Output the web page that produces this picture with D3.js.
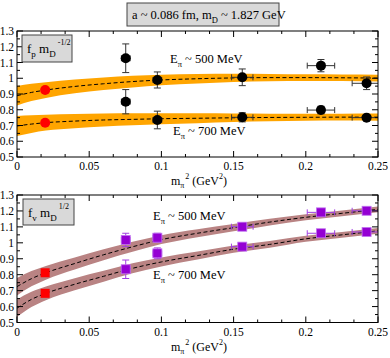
<!DOCTYPE html>
<html><head><meta charset="utf-8">
<script src="https://cdn.jsdelivr.net/npm/d3@7"></script>
<style>body{margin:0;background:#fff}svg text{font-family:"Liberation Serif","DejaVu Serif",serif;fill:#000}</style>
</head><body><svg id="c" width="390" height="358"></svg>
<script>
// ---- data ----
const xTicks = [0, 0.05, 0.1, 0.15, 0.2, 0.25];
const xTickLabels = ["0", "0.05", "0.1", "0.15", "0.2", "0.25"];
const yTicks = [0.5, 0.6, 0.7, 0.8, 0.9, 1.0, 1.1, 1.2, 1.3];
const yTickLabels = ["0.5", "0.6", "0.7", "0.8", "0.9", "1", "1.1", "1.2", "1.3"];

// top panel f_p
const fpX = [0.0753, 0.0972, 0.156, 0.2105, 0.2421];
const fpXerr = [0.003, 0.003, 0.0074, 0.0095, 0.01];
const fp500 = [1.127, 0.989, 1.006, 1.080, 0.968];
const fp500err = [0.091, 0.051, 0.053, 0.039, 0.04];
const fp700 = [0.851, 0.735, 0.752, 0.798, 0.750];
const fp700err = [0.077, 0.056, 0.029, 0.024, 0.012];
const fpPhysX = 0.0195;
const fpPhys = [0.925, 0.718];

const curveX = [0, 0.01, 0.02, 0.04, 0.06, 0.08, 0.1, 0.125, 0.15, 0.175, 0.2, 0.225, 0.25];
const fpFit500 = [0.889, 0.910, 0.925, 0.948, 0.965, 0.979, 0.989, 0.997, 1.002, 1.004, 1.004, 1.003, 1.001];
const fpFit500w = [0.062, 0.055, 0.05, 0.044, 0.04, 0.037, 0.034, 0.03, 0.026, 0.023, 0.021, 0.021, 0.022];
const fpFit700 = [0.697, 0.709, 0.718, 0.728, 0.735, 0.739, 0.743, 0.746, 0.749, 0.751, 0.752, 0.753, 0.753];
const fpFit700w = [0.064, 0.056, 0.05, 0.045, 0.041, 0.038, 0.035, 0.031, 0.027, 0.024, 0.022, 0.022, 0.023];

// bottom panel f_v
const fvX = [0.0753, 0.0972, 0.156, 0.2105, 0.2421];
const fvXerr = [0.003, 0.003, 0.0075, 0.0095, 0.01];
const fv500 = [1.018, 1.032, 1.101, 1.191, 1.201];
const fv500err = [0.042, 0.028, 0.012, 0.01, 0.01];
const fv700 = [0.834, 0.934, 0.976, 1.060, 1.068];
const fv700err = [0.058, 0.034, 0.02, 0.015, 0.012];
const fvPhysX = 0.0195;
const fvPhys = [0.812, 0.683];
const fvFit500 = [0.725, 0.775, 0.812, 0.870, 0.925, 0.975, 1.020, 1.060, 1.095, 1.130, 1.160, 1.185, 1.210];
const fvFit500w = [0.055, 0.048, 0.043, 0.038, 0.034, 0.031, 0.028, 0.025, 0.023, 0.021, 0.019, 0.018, 0.018];
const fvFit700 = [0.590, 0.645, 0.683, 0.740, 0.790, 0.840, 0.880, 0.920, 0.960, 0.990, 1.025, 1.050, 1.075];
const fvFit700w = [0.055, 0.048, 0.043, 0.038, 0.034, 0.031, 0.028, 0.025, 0.023, 0.021, 0.019, 0.018, 0.018];

// ---- drawing ----
const svg = d3.select("#c");
const x = d3.scaleLinear().domain([0, 0.25]).range([17, 378]);

function panel(y0, y1, cfg) {
  const y = d3.scaleLinear().domain([0.5, 1.3]).range([y1, y0]);
  const g = svg.append("g");
  const clipId = "clip" + Math.round(y0);
  svg.append("clipPath").attr("id", clipId).append("rect")
    .attr("x", x(0)).attr("y", y0).attr("width", x(0.25) - x(0)).attr("height", y1 - y0);
  const pg = g.append("g").attr("clip-path", `url(#${clipId})`);
  const band = d3.area().x((d, i) => x(curveX[i])).y0(d => y(d[0] - d[1])).y1(d => y(d[0] + d[1])).curve(d3.curveMonotoneX);
  const line = d3.line().x((d, i) => x(curveX[i])).y(d => y(d)).curve(d3.curveMonotoneX);
  cfg.fits.forEach(f => {
    pg.append("path").datum(f[0].map((v, i) => [v, f[1][i]])).attr("d", band).attr("fill", cfg.bandColor);
  });
  cfg.fits.forEach(f => {
    pg.append("path").datum(f[0]).attr("d", line).attr("fill", "none").attr("stroke", "#000")
      .attr("stroke-width", 1).attr("stroke-dasharray", "4,2.5");
  });
  // error bars & points
  cfg.series.forEach(s => {
    s.vals.forEach((v, i) => {
      const cx = x(cfg.xs[i]), cy = y(v);
      const xl = x(cfg.xs[i] - cfg.xerr[i]), xr = x(cfg.xs[i] + cfg.xerr[i]);
      const yt = y(v + s.err[i]), yb = y(v - s.err[i]);
      const eg = pg.append("g").attr("stroke", cfg.errColor).attr("stroke-width", 1).attr("fill", "none");
      eg.append("line").attr("x1", xl).attr("x2", xr).attr("y1", cy).attr("y2", cy);
      eg.append("line").attr("x1", xl).attr("x2", xl).attr("y1", cy - 3).attr("y2", cy + 3);
      eg.append("line").attr("x1", xr).attr("x2", xr).attr("y1", cy - 3).attr("y2", cy + 3);
      eg.append("line").attr("x1", cx).attr("x2", cx).attr("y1", yt).attr("y2", yb);
      eg.append("line").attr("x1", cx - 3.5).attr("x2", cx + 3.5).attr("y1", yt).attr("y2", yt);
      eg.append("line").attr("x1", cx - 3.5).attr("x2", cx + 3.5).attr("y1", yb).attr("y2", yb);
      if (cfg.shape === "circle") {
        pg.append("circle").attr("cx", cx).attr("cy", cy).attr("r", 5).attr("fill", "#000");
      } else {
        pg.append("rect").attr("x", cx - 4.5).attr("y", cy - 4.5).attr("width", 9).attr("height", 9)
          .attr("fill", cfg.ptColor).attr("stroke", "#c070f0").attr("stroke-width", 0.8);
      }
    });
  });
  cfg.phys.forEach(v => {
    const cx = x(cfg.physX), cy = y(v);
    if (cfg.shape === "circle") pg.append("circle").attr("cx", cx).attr("cy", cy).attr("r", 5).attr("fill", "#ff0000");
    else pg.append("rect").attr("x", cx - 4.5).attr("y", cy - 4.5).attr("width", 9).attr("height", 9).attr("fill", "#ff0000");
  });
  // frame
  g.append("rect").attr("x", x(0)).attr("y", y0).attr("width", x(0.25) - x(0)).attr("height", y1 - y0)
    .attr("fill", "none").attr("stroke", "#000").attr("stroke-width", 1);
  // ticks (inward, all sides)
  const tg = g.append("g").attr("stroke", "#000").attr("stroke-width", 1);
  const xMinor = d3.range(0, 0.2501, 0.05 / 3);
  xMinor.forEach(v => {
    const isMajor = xTicks.some(t => Math.abs(t - v) < 1e-6);
    const len = isMajor ? 6 : 3;
    tg.append("line").attr("x1", x(v)).attr("x2", x(v)).attr("y1", y1).attr("y2", y1 - len);
    tg.append("line").attr("x1", x(v)).attr("x2", x(v)).attr("y1", y0).attr("y2", y0 + len);
  });
  d3.range(0.5, 1.3001, 0.05).forEach((v, i) => {
    const len = i % 2 === 0 ? 6 : 3;
    tg.append("line").attr("x1", x(0)).attr("x2", x(0) + len).attr("y1", y(v)).attr("y2", y(v));
    tg.append("line").attr("x1", x(0.25)).attr("x2", x(0.25) - len).attr("y1", y(v)).attr("y2", y(v));
  });
  // tick labels
  xTicks.forEach((v, i) => {
    g.append("text").attr("x", x(v)).attr("y", y1 + 13).attr("text-anchor", "middle")
      .attr("font-size", 11.5).text(xTickLabels[i]);
  });
  yTicks.forEach((v, i) => {
    g.append("text").attr("x", 14).attr("y", y(v) + 4).attr("text-anchor", "end")
      .attr("font-size", 11.5).text(yTickLabels[i]);
  });
  // axis title
  const at = g.append("text").attr("x", 199).attr("y", y1 + 28).attr("text-anchor", "middle").attr("font-size", 12);
  at.append("tspan").text("m");
  at.append("tspan").attr("font-size", 8).attr("dy", 3).text("π");
  at.append("tspan").attr("font-size", 8).attr("dy", -9).attr("dx", 1).text("2");
  at.append("tspan").attr("dy", 6).text(" (GeV");
  at.append("tspan").attr("font-size", 8).attr("dy", -6).text("2");
  at.append("tspan").attr("dy", 6).text(")");
  // legend box
  const lb = cfg.legend;
  g.append("rect").attr("x", lb.x).attr("y", lb.y).attr("width", lb.w).attr("height", lb.h)
    .attr("fill", "#d9d9d9").attr("stroke", "#444").attr("stroke-width", 1);
  const lt = g.append("text").attr("x", lb.x + 5).attr("y", lb.y + 18).attr("font-size", 13);
  lt.append("tspan").text("f");
  lt.append("tspan").attr("font-size", 9).attr("dy", 4).text(lb.sub);
  lt.append("tspan").attr("dy", -4).text(" m");
  lt.append("tspan").attr("font-size", 9).attr("dy", 4).text("D");
  lt.append("tspan").attr("font-size", 8).attr("dy", -12).attr("dx", 2).text(lb.sup);
  // series labels
  cfg.labels.forEach(l => {
    const t = g.append("text").attr("x", l.x).attr("y", l.y).attr("font-size", 12.5);
    t.append("tspan").text("E");
    t.append("tspan").attr("font-size", 8.5).attr("dy", 3.5).text("π");
    t.append("tspan").attr("dy", -3.5).text(" ~ " + l.text);
  });
}

panel(31, 157, {
  xs: fpX, xerr: fpXerr, shape: "circle", errColor: "#333", bandColor: "#ffa500",
  series: [{vals: fp500, err: fp500err}, {vals: fp700, err: fp700err}],
  phys: fpPhys, physX: fpPhysX,
  fits: [[fpFit500, fpFit500w], [fpFit700, fpFit700w]],
  legend: {x: 22, y: 35, w: 50, h: 27, sub: "p", sup: "-1/2"},
  labels: [{x: 170, y: 63, text: "500 MeV"}, {x: 173, y: 135, text: "700 MeV"}]
});
panel(195, 322.5, {
  xs: fvX, xerr: fvXerr, shape: "square", errColor: "#a040e0", bandColor: "#b98383", ptColor: "#9400d3",
  series: [{vals: fv500, err: fv500err}, {vals: fv700, err: fv700err}],
  phys: fvPhys, physX: fvPhysX,
  fits: [[fvFit500, fvFit500w], [fvFit700, fvFit700w]],
  legend: {x: 23, y: 199, w: 51, h: 26, sub: "v", sup: "1/2"},
  labels: [{x: 153, y: 220, text: "500 MeV"}, {x: 153, y: 279, text: "700 MeV"}]
});

// title box
svg.append("rect").attr("x", 127).attr("y", 3).attr("width", 152).attr("height", 23)
  .attr("fill", "#d9d9d9").attr("stroke", "#444").attr("stroke-width", 1);
const tt = svg.append("text").attr("x", 132).attr("y", 19).attr("font-size", 12.5);
tt.append("tspan").text("a ~ 0.086 fm, m");
tt.append("tspan").attr("font-size", 8.5).attr("dy", 3.5).text("D");
tt.append("tspan").attr("dy", -3.5).text(" ~ 1.827 GeV");
</script></body></html>
